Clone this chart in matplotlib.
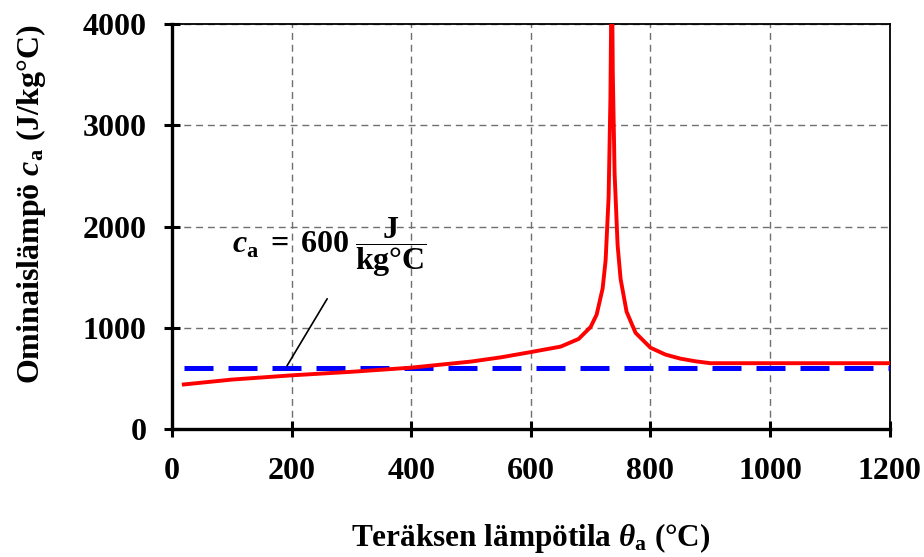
import matplotlib
matplotlib.use("Agg")
import matplotlib.pyplot as plt
import numpy as np

# steel specific heat
temps = [20, 100, 200, 300, 400, 500, 550, 600, 650, 680, 700, 710, 720, 725,
         730, 733, 734, 735, 737, 740, 745, 750, 760, 775, 800, 825, 850, 875,
         900, 1000, 1100, 1200]
cap = [440, 488, 530, 565, 606, 666, 708, 760, 814, 890, 1008, 1130, 1388, 1666,
       2291, 3266, 3916, 5000, 3515, 2525, 1818, 1483, 1159, 950, 803, 735, 695, 669,
       650, 650, 650, 650]
const_x = [20, 1200]
const_c = [600, 600]

xticks = [0, 200, 400, 600, 800, 1000, 1200]
yticks = [0, 1000, 2000, 3000, 4000]

plt.rcParams['font.family'] = ['Liberation Serif', 'DejaVu Serif']
plt.rcParams['font.weight'] = 'bold'
plt.rcParams['mathtext.fontset'] = 'custom'
plt.rcParams['mathtext.rm'] = 'Liberation Serif:bold'
plt.rcParams['mathtext.bf'] = 'Liberation Serif:bold'
plt.rcParams['mathtext.it'] = 'Liberation Serif:italic:bold'

fig = plt.figure(figsize=(9.24, 5.57), dpi=100)
ax = fig.add_axes([0.186, 0.2298, 0.777, 0.727])

ax.plot(const_x, const_c, color='#0000ff', lw=3.6, dashes=(5.8, 3.0), zorder=3)
ax.plot(temps, cap, color='#ff0000', lw=2.8, zorder=4, clip_on=True)

ax.set_xlim(0, 1200)
ax.set_ylim(0, 4000)
ax.set_xticks(xticks)
ax.set_yticks(yticks)
ax.grid(True, color='#707070', lw=1.0, dashes=(5, 3.5))
ax.set_axisbelow(True)

for s in ['left', 'bottom']:
    ax.spines[s].set_linewidth(2.4)
for s in ['top', 'right']:
    ax.spines[s].set_linewidth(1.3)
ax.tick_params(axis='both', direction='inout', length=12, width=2.2,
               labelsize=23)
ax.tick_params(axis='x', pad=14)
ax.tick_params(axis='y', pad=12)

ax.set_xlabel(r'Teräksen lämpötila $\theta_{\mathrm{a}}$ (°C)', fontsize=22.5,
              fontweight='bold', labelpad=25)
ax.set_ylabel(r'Ominaislämpö $c_{\mathrm{a}}$ (J/kg°C)', fontsize=23,
              fontweight='bold')
ax.yaxis.set_label_coords(-0.173, 0.555)

# annotation for the constant value
ax.annotate('', xy=(190, 600), xytext=(262, 1310),
            arrowprops=dict(arrowstyle='-', color='black', lw=1.2))
ax.text(264, 1800, r'$c_{\mathrm{a}}\;=\;600\;\dfrac{\mathrm{J}}{\mathrm{kg°C}}$',
        fontsize=23, ha='center', va='center')

fig.savefig('out.png', dpi=100)
